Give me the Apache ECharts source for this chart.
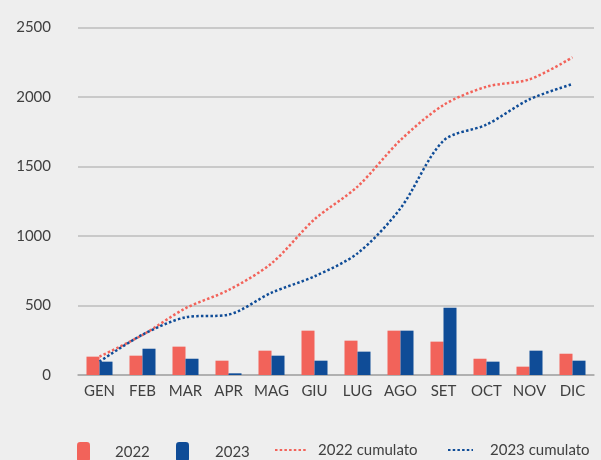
<!DOCTYPE html>
<html>
<head>
<meta charset="utf-8">
<script src="https://cdn.jsdelivr.net/npm/echarts@6/dist/echarts.min.js"></script>
<style>
html,body{margin:0;padding:0;background:#eeeeee;}
#chart{width:601px;height:460px;}
</style>
</head>
<body>
<div id="chart"></div>
<script>
var categories = ['GEN','FEB','MAR','APR','MAG','GIU','LUG','AGO','SET','OCT','NOV','DIC'];
var bars2022 = [132,139,204,103,175,319,247,319,240,117,60,153];
var bars2023 = [96,189,117,12,139,103,168,319,484,96,175,103];
var cum2022 = [132,288,480,611,803,1120,1355,1690,1942,2074,2127,2285];
var cum2023 = [96,290,415,434,592,710,875,1199,1686,1801,1983,2093];
var yTicks = [0,500,1000,1500,2000,2500];

var RED = '#f2635a', BLUE = '#0f4c97', TXT = '#404040', FONT = 'Lato';

var chart = echarts.init(document.getElementById('chart'), null, {renderer:'canvas'});
function lg(name, left, w, h, pad, hideSymbol){
  var o = {
    data:[name], left:left, top:442, itemWidth:w, itemHeight:h, padding:0,
    textStyle:{color:TXT, fontFamily:FONT, fontSize:15, padding:[0,0,0,pad]}
  };
  if (hideSymbol) { o.itemStyle = {opacity:0}; }
  return o;
}
chart.setOption({
  backgroundColor:'#eeeeee',
  animation:false,
  grid:{left:78, right:7, top:27.5, bottom:85},
  legend:[
    lg('2022',77,13,20,20,false),
    lg('2023',176,13,20,21,false),
    lg('2022 cumulato',274,31,20,7,true),
    lg('2023 cumulato',447,25,20,12,true)
  ],
  xAxis:{
    type:'category', data:categories,
    axisTick:{show:false},
    axisLine:{lineStyle:{color:'#a8a8a8', width:1.5}},
    axisLabel:{color:TXT, fontFamily:FONT, fontSize:15, margin:9, interval:0}
  },
  yAxis:{
    type:'value', min:0, max:2500, interval:500,
    axisLine:{show:false}, axisTick:{show:false},
    splitLine:{lineStyle:{color:'#bdbdbd', width:1.5}},
    axisLabel:{color:TXT, fontFamily:FONT, fontSize:15, margin:27, padding:[0,0,8,0],
      formatter:function(v){return yTicks.indexOf(v)>=0 ? String(v) : '';}}
  },
  series:[
    {name:'2022', type:'bar', data:bars2022, barWidth:13, barGap:'0%', itemStyle:{color:RED}},
    {name:'2023', type:'bar', data:bars2023, barWidth:13, barGap:'0%', itemStyle:{color:BLUE}},
    {name:'2022 cumulato', type:'line', data:cum2022, smooth:0.3, symbol:'none', z:5,
      itemStyle:{color:RED},
      lineStyle:{color:RED, width:2.5, type:[2.5,2.2]}},
    {name:'2023 cumulato', type:'line', data:cum2023, smooth:0.3, symbol:'none', z:5,
      itemStyle:{color:BLUE},
      lineStyle:{color:BLUE, width:2.5, type:[2.5,2.2]}}
  ]
});
</script>
</body>
</html>
